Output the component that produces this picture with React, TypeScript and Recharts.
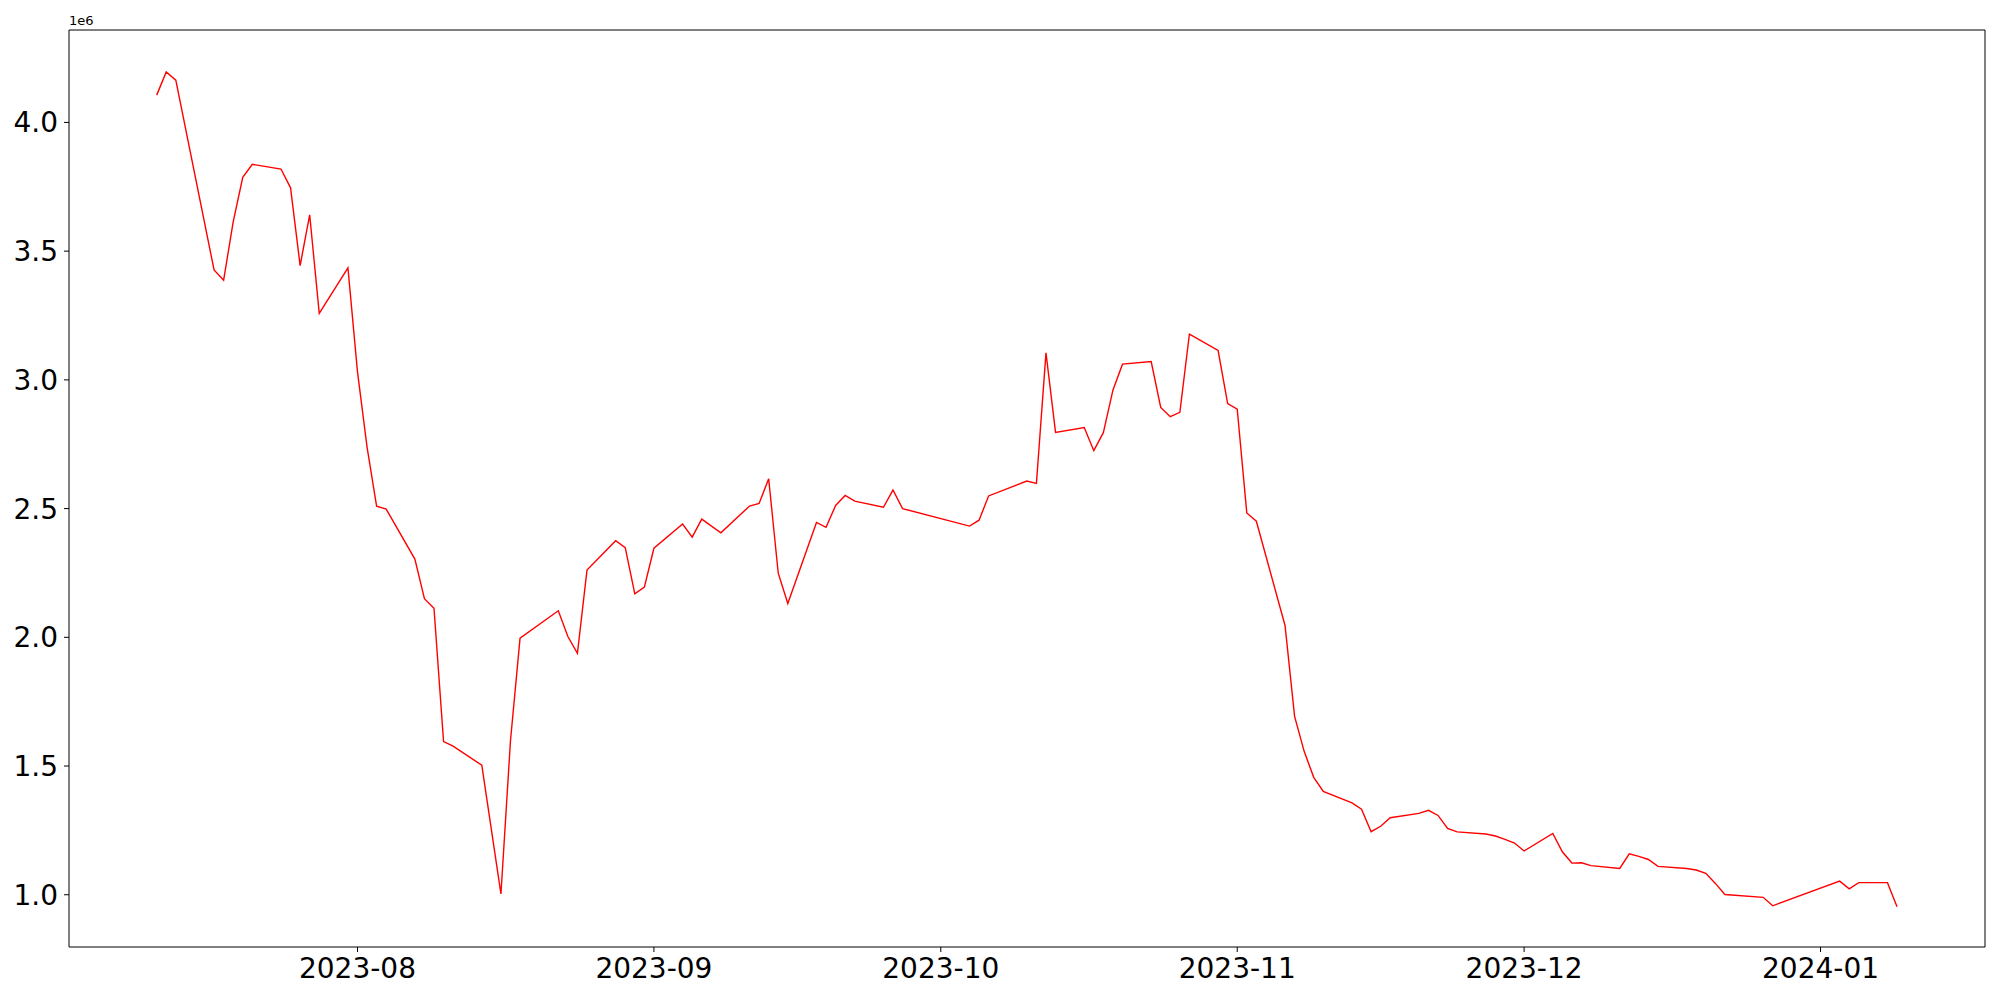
import React from "react";
import { LineChart, Line, XAxis, YAxis, ReferenceLine } from "recharts";

const dates: string[] = [
  "2023-07-11", "2023-07-12", "2023-07-13", "2023-07-17", "2023-07-18", "2023-07-19", "2023-07-20", "2023-07-21",
  "2023-07-24", "2023-07-25", "2023-07-26", "2023-07-27", "2023-07-28", "2023-07-31",
  "2023-08-01", "2023-08-02", "2023-08-03", "2023-08-04", "2023-08-07", "2023-08-08", "2023-08-09", "2023-08-10",
  "2023-08-11", "2023-08-14", "2023-08-16", "2023-08-17", "2023-08-18", "2023-08-22", "2023-08-23", "2023-08-24",
  "2023-08-25", "2023-08-28", "2023-08-29", "2023-08-30", "2023-08-31",
  "2023-09-01", "2023-09-04", "2023-09-05", "2023-09-06", "2023-09-08", "2023-09-11", "2023-09-12", "2023-09-13",
  "2023-09-14", "2023-09-15", "2023-09-18", "2023-09-19", "2023-09-20", "2023-09-21", "2023-09-22", "2023-09-25",
  "2023-09-26", "2023-09-27",
  "2023-10-04", "2023-10-05", "2023-10-06", "2023-10-10", "2023-10-11", "2023-10-12", "2023-10-13", "2023-10-16",
  "2023-10-17", "2023-10-18", "2023-10-19", "2023-10-20", "2023-10-23", "2023-10-24", "2023-10-25", "2023-10-26",
  "2023-10-27", "2023-10-30", "2023-10-31",
  "2023-11-01", "2023-11-02", "2023-11-03", "2023-11-06", "2023-11-07", "2023-11-08", "2023-11-09", "2023-11-10",
  "2023-11-13", "2023-11-14", "2023-11-15", "2023-11-16", "2023-11-17", "2023-11-20", "2023-11-21", "2023-11-22",
  "2023-11-23", "2023-11-24", "2023-11-27", "2023-11-28", "2023-11-29", "2023-11-30",
  "2023-12-01", "2023-12-04", "2023-12-05", "2023-12-06", "2023-12-07", "2023-12-08", "2023-12-11", "2023-12-12",
  "2023-12-13", "2023-12-14", "2023-12-15", "2023-12-18", "2023-12-19", "2023-12-20", "2023-12-21", "2023-12-22",
  "2023-12-26", "2023-12-27",
  "2024-01-03", "2024-01-04", "2024-01-05", "2024-01-08", "2024-01-09",
];

const values: number[] = [
  4106000, 4196000, 4164000, 3427000, 3387000, 3614000, 3787000, 3837000,
  3819000, 3746000, 3444000, 3641000, 3258000, 3435000,
  3031000, 2739000, 2509000, 2498000, 2304000, 2150000, 2113000, 1595000,
  1577000, 1503000, 1003000, 1599000, 1997000, 2103000, 2003000, 1938000,
  2261000, 2375000, 2348000, 2169000, 2195000,
  2346000, 2440000, 2389000, 2459000, 2406000, 2510000, 2520000, 2616000,
  2249000, 2131000, 2446000, 2427000, 2512000, 2551000, 2529000, 2505000,
  2572000, 2500000,
  2432000, 2455000, 2549000, 2607000, 2598000, 3105000, 2796000, 2815000,
  2725000, 2795000, 2960000, 3061000, 3071000, 2893000, 2857000, 2874000,
  3178000, 3114000, 2908000,
  2886000, 2483000, 2451000, 2046000, 1693000, 1557000, 1456000, 1401000,
  1357000, 1332000, 1245000, 1266000, 1299000, 1316000, 1328000, 1308000,
  1258000, 1244000, 1236000, 1228000, 1215000, 1201000,
  1170000, 1238000, 1167000, 1123000, 1124000, 1113000, 1102000, 1159000,
  1149000, 1137000, 1110000, 1102000, 1096000, 1083000, 1044000, 1001000,
  990000, 957000,
  1053000, 1023000, 1047000, 1047000, 953000,
];

const xTickLabels: string[] = ["2023-08", "2023-09", "2023-10", "2023-11", "2023-12", "2024-01"];
const yTickValues: number[] = [1000000, 1500000, 2000000, 2500000, 3000000, 3500000, 4000000];

const DAY = 86400000;
const toTs = (s: string) => {
  const [y, m, d] = s.split("-").map(Number);
  return Date.UTC(y, m - 1, d);
};

const data = dates.map((d, i) => ({ t: toTs(d), v: values[i] }));
const xTicks = xTickLabels.map((s) => toTs(s + "-01"));
const xDomain: [number, number] = [toTs("2023-08-01") - 30.17 * DAY, toTs("2024-01-01") + 17.2 * DAY];
const yDomain: [number, number] = [797000, 4359000];

const fmtX = (t: number) => {
  const d = new Date(t);
  const m = d.getUTCMonth() + 1;
  return `${d.getUTCFullYear()}-${m < 10 ? "0" + m : m}`;
};
const fmtY = (v: number) => (v / 1e6).toFixed(1);

const FONT = "DejaVu Sans";

export default function App() {
  return (
    <div style={{ position: "absolute", left: 0, top: 0, width: 2000, height: 1000, background: "#fff", fontFamily: FONT }}>
      <LineChart width={2000} height={1000} data={data} margin={{ top: 30, right: 15, bottom: 0, left: 0 }}>
        <XAxis
          dataKey="t"
          type="number"
          scale="time"
          domain={xDomain}
          allowDataOverflow
          ticks={xTicks}
          tickFormatter={fmtX}
          height={53}
          tickSize={5}
          tickMargin={6}
          interval={0}
          stroke="#000"
          tick={{ fill: "#000", fontSize: 28, fontFamily: FONT }}
        />
        <YAxis
          type="number"
          domain={yDomain}
          allowDataOverflow
          ticks={yTickValues}
          tickFormatter={fmtY}
          width={69}
          tickSize={5}
          tickMargin={6}
          interval={0}
          stroke="#000"
          tick={{ fill: "#000", fontSize: 28, fontFamily: FONT }}
        />
        <ReferenceLine y={yDomain[1]} stroke="#000" strokeWidth={1} ifOverflow="visible" />
        <ReferenceLine x={xDomain[1]} stroke="#000" strokeWidth={1} ifOverflow="visible" />
        <Line
          type="linear"
          dataKey="v"
          stroke="#ff0000"
          strokeWidth={1.4}
          dot={false}
          activeDot={false}
          isAnimationActive={false}
        />
      </LineChart>
      <div style={{ position: "absolute", left: 69, top: 13, fontSize: 13, color: "#000", fontFamily: FONT, lineHeight: "15px" }}>
        1e6
      </div>
    </div>
  );
}
